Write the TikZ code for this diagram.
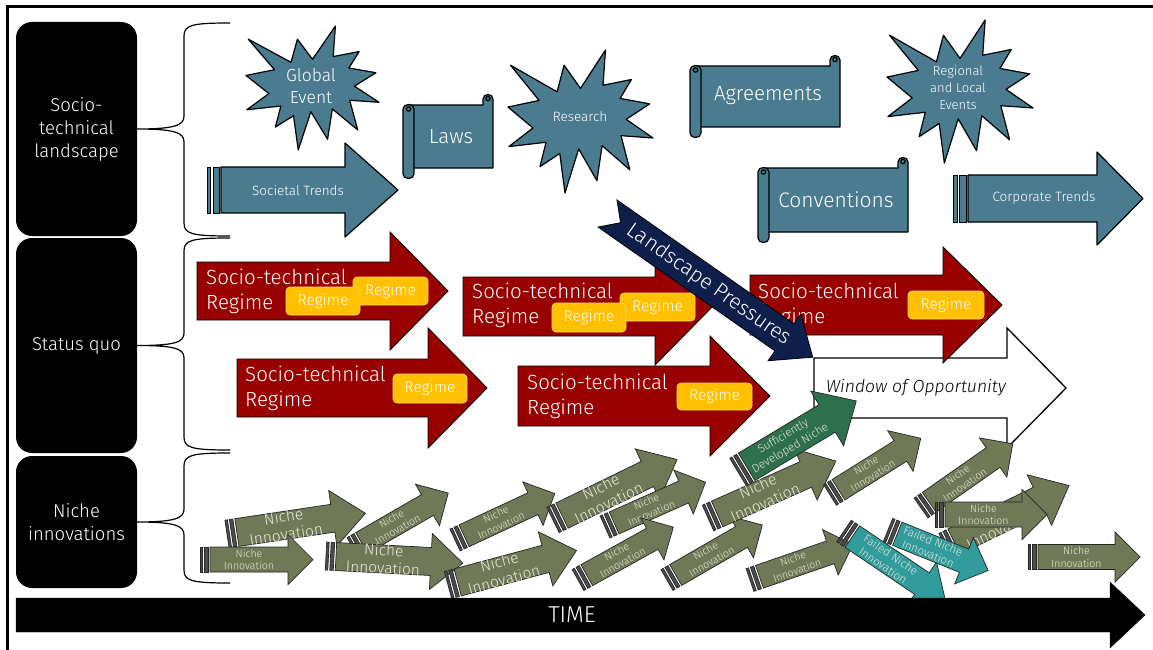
\documentclass[tikz,border=0pt]{standalone}
\usepackage{fontspec}
\setmainfont{Fira Sans Light}
\definecolor{landblue}{RGB}{74,123,143}
\definecolor{regred}{RGB}{153,0,0}
\definecolor{regyel}{RGB}{255,192,0}
\definecolor{navy}{RGB}{13,31,74}
\definecolor{nichegreen}{RGB}{112,121,86}
\definecolor{sdngreen}{RGB}{46,112,78}
\definecolor{failteal}{RGB}{50,155,155}
\definecolor{nichetext}{RGB}{232,232,218}

% explosion outline on a 216 x 216 grid, fitted into a w x h box at (x,y)
\newcommand{\seal}[4]{%
  \begin{scope}[shift={(#1,#2)},xscale=#3/216,yscale=#4/216]
    \draw[land] (108,58) -- (145.22,0) -- (141.55,53.25) -- (183.80,44.57) -- (167.02,73.15)
      -- (210.97,81.37) -- (176.07,104.75) -- (216,132.90) -- (168.37,129.42) -- (181.45,180.95)
      -- (140.20,144.57) -- (132.47,197.37) -- (105.32,149.35) -- (84.85,216) -- (77.15,156.27)
      -- (47.62,176.17) -- (56.67,139.37) -- (1.35,145.87) -- (37.22,117.75) -- (0,86.15)
      -- (46.27,76.17) -- (3.70,22.95) -- (73.12,63.20) -- (83.52,22.95) -- cycle;
  \end{scope}}

% scroll: body from (x1,y1) to (x2,y2), rolled tube on the left, curl top right
\newcommand{\scrollshape}[4]{%
  \draw[land] (#1+5,#2) -- (#3-10,#2) -- (#3-10,#2-6)
    .. controls (#3-10,#2-12) and (#3,#2-12) .. (#3,#2-6) -- (#3,#4) -- (#1+5,#4) -- cycle;
  \draw[land] (#3-5,#2-6.5) circle (2.2);
  \draw[land] (#1,#2+4) .. controls (#1,#2-2) and (#1+11,#2-2) .. (#1+11,#2+4)
    -- (#1+11,#4+6) .. controls (#1+11,#4+12) and (#1,#4+12) .. (#1,#4+6) -- cycle;
  \draw[land] (#1+5.5,#2+4) circle (2.2);}

% striped arrow: kind, name, tail x, tail y, angle, length, body half-height, head length, label
\newcommand{\nichearrow}[9]{%
  \begin{scope}[#1, shift={(#3,#4)}, rotate=#5]
    \draw[arrowbody, stripe] (0,-#7) rectangle (2.5,#7);
    \draw[arrowbody, stripe] (4.5,-#7) rectangle (8,#7);
    \draw[arrowbody] (10,-#7) -- ({#6-#8},-#7) -- ({#6-#8},{-2*#7}) -- (#6,0)
      -- ({#6-#8},{2*#7}) -- ({#6-#8},#7) -- (10,#7) -- cycle;
    \node[arrowlab, transform shape] (#2) at ({(10+#6-#8)/2},0) {#9};
  \end{scope}}

\tikzset{
  outerframe/.style={line width=3pt},
  leftbox/.style={fill=black, rounded corners=16pt, text=white, align=center,
    font=\fontsize{18.5}{23}\selectfont, inner sep=0},
  bracep/.style={line width=1.2pt, draw=black},
  land/.style={fill=landblue, draw=black, line width=1.2pt, line join=round},
  landstripe/.style={fill=landblue, draw=black, line width=0.6pt},
  landtxt/.style={text=white, align=center, inner sep=0},
  regime/.style={fill=regred, draw=black, line width=0.9pt, line join=miter},
  regtxt/.style={text=white, align=left, inner sep=0, font=\fontsize{20.5}{25}\selectfont},
  ybox/.style={fill=regyel, draw=regyel!55!white, line width=0.6pt, rounded corners=4pt,
    text=white, font=\fontsize{15.5}{18}\selectfont, inner sep=0},
  window/.style={fill=white, draw=black, line width=1.3pt},
  pressure/.style={fill=navy, draw=black, line width=0.8pt},
  nichefill/.style={fill=nichegreen, draw=black!85, line width=0.7pt},
  sdnfill/.style={fill=sdngreen, draw=black!85, line width=0.7pt},
  failfill/.style={fill=failteal, draw=black!85, line width=0.7pt},
  stripe/.style={fill=black!70},
  nichetxt/.style={text=nichetext, align=center, inner sep=0},
  nsmall/.style={arrowbody/.style={nichefill},
    arrowlab/.style={nichetxt, font=\fontsize{10.5}{12.5}\selectfont}},
  nbig/.style={arrowbody/.style={nichefill},
    arrowlab/.style={nichetxt, font=\fontsize{15.5}{18}\selectfont}},
  nsdn/.style={arrowbody/.style={sdnfill},
    arrowlab/.style={nichetxt, font=\fontsize{11.5}{14}\selectfont}},
  nfail/.style={arrowbody/.style={failfill},
    arrowlab/.style={nichetxt, font=\fontsize{11.5}{13.5}\selectfont}},
}

\begin{document}
\begin{tikzpicture}[x=1pt,y=-1pt]
\useasboundingbox (0,0) rectangle (1153,650);
\fill[white] (0,0) rectangle (1153,650);
\draw[outerframe] (7,7) rectangle (1160,660);

% layer boxes on the left
\node[leftbox, minimum width=121pt, minimum height=214pt] (boxland) at (76.5,129) {Socio-\\technical\\landscape};
\node[leftbox, minimum width=121pt, minimum height=215pt] (boxquo) at (76.5,345.5) {Status quo};
\node[leftbox, minimum width=121pt, minimum height=132pt] (boxniche) at (76.5,522) {Niche\\innovations};

% braces
\draw[bracep] (230,23) .. controls (192,23) and (184,25) .. (184,36) -- (184,116)
  .. controls (184,125) and (176,129) .. (boxland.east)
  .. controls (176,129) and (184,133) .. (184,142) -- (184,223)
  .. controls (184,234) and (192,236) .. (230,236);
\draw[bracep] (230,238) .. controls (192,238) and (184,240) .. (184,251) -- (184,333)
  .. controls (184,342) and (176,345.5) .. (boxquo.east)
  .. controls (176,345.5) and (184,349) .. (184,358) -- (184,437)
  .. controls (184,448) and (192,450) .. (230,450);
\draw[bracep] (230,453) .. controls (192,453) and (184,455) .. (184,466) -- (184,509)
  .. controls (184,518) and (176,522) .. (boxniche.east)
  .. controls (176,522) and (184,526) .. (184,535) -- (184,570)
  .. controls (184,581) and (192,583) .. (230,583);

% landscape
\seal{246}{26}{133}{124}
\node[landtxt, font=\fontsize{17.5}{22}\selectfont] (global) at (311,86) {Global\\Event};

\draw[landstripe] (207,167) rectangle (210.5,213);
\draw[landstripe] (213,167) rectangle (219.5,213);
\draw[land] (221,167) -- (345,167) -- (345,143) -- (398,190) -- (345,237) -- (345,213) -- (221,213) -- cycle;
\node[landtxt, font=\fontsize{13.5}{16}\selectfont] (societal) at (298,190) {Societal Trends};

\scrollshape{403}{105}{493}{168}
\node[landtxt, font=\fontsize{20.5}{24}\selectfont] (laws) at (451,137) {Laws};

\seal{508}{50}{145}{143}
\node[landtxt, font=\fontsize{13.5}{16}\selectfont] (research) at (580,117) {Research};

\scrollshape{690}{66}{840}{127}
\node[landtxt, font=\fontsize{20.5}{24}\selectfont] (agree) at (768,96) {Agreements};

\seal{887}{20}{146}{143}
\node[landtxt, font=\fontsize{13}{17}\selectfont] (regional) at (958,88) {Regional\\and Local\\Events};

\scrollshape{758}{168}{908}{232}
\node[landtxt, font=\fontsize{21}{24}\selectfont] (conv) at (836,200) {Conventions};

\draw[landstripe] (953,175) rectangle (957,222);
\draw[landstripe] (959.5,175) rectangle (966,222);
\draw[land] (968,175) -- (1097,175) -- (1097,152) -- (1143,198.5) -- (1097,245) -- (1097,222) -- (968,222) -- cycle;
\node[landtxt, font=\fontsize{13.5}{16}\selectfont] (corporate) at (1044,198) {Corporate Trends};

% regimes
\draw[regime] (197,262) -- (390,262) -- (390,232) -- (448,291) -- (390,350) -- (390,320) -- (197,320) -- cycle;
\node[regtxt, anchor=west] (r1t) at (206,291) {Socio-technical\\Regime};
\node[ybox, minimum width=75pt, minimum height=28pt] (r1b) at (390.5,291) {Regime};
\node[ybox, minimum width=74pt, minimum height=28pt] (r1a) at (323,301) {Regime};

\draw[regime] (237,359) -- (428,359) -- (428,328) -- (487,388) -- (428,448) -- (428,417) -- (237,417) -- cycle;
\node[regtxt, anchor=west] (r2t) at (245,388) {Socio-technical\\Regime};
\node[ybox, minimum width=74pt, minimum height=29pt] (r2a) at (430,388.5) {Regime};

\draw[regime] (463,277) -- (655,277) -- (655,247) -- (713,306) -- (655,365) -- (655,336) -- (463,336) -- cycle;
\node[regtxt, anchor=west] (r3t) at (472,305.5) {Socio-technical\\Regime};
\node[ybox, minimum width=75pt, minimum height=28pt] (r3b) at (657.5,307) {Regime};
\node[ybox, minimum width=74pt, minimum height=29pt] (r3a) at (589,317.5) {Regime};

\draw[regime] (518,366) -- (710,366) -- (710,336) -- (770,396) -- (710,456) -- (710,426) -- (518,426) -- cycle;
\node[regtxt, anchor=west] (r4t) at (527,396) {Socio-technical\\Regime};
\node[ybox, minimum width=75pt, minimum height=27pt] (r4a) at (714.5,396.5) {Regime};

% window of opportunity
\draw[window] (814,358) -- (1007,358) -- (1007,328) -- (1066,388) -- (1007,448) -- (1007,418) -- (814,418) -- cycle;
\node[inner sep=0, font=\fontsize{17.5}{20}\selectfont\itshape] (wtext) at (916,388) {Window of Opportunity};

\draw[regime] (750,275) -- (943,275) -- (943,247) -- (1002,305) -- (943,363) -- (943,335) -- (750,335) -- cycle;
\node[regtxt, anchor=west] (r5t) at (758,305) {Socio-technical\\Regime};
\node[ybox, minimum width=76pt, minimum height=28pt] (r5a) at (946,305) {Regime};

% landscape pressures
\begin{scope}[shift={(607.5,213.5)}, rotate=-35]
  \draw[pressure] (0,-16.5) -- (216,-16.5) -- (216,-28.5) -- (250.5,0) -- (216,28.5) -- (216,16.5) -- (0,16.5) -- (16,0) -- cycle;
  \node[transform shape, text=white, inner sep=0, font=\fontsize{21}{24}\selectfont] (lptext) at (124,0) {Landscape Pressures};
\end{scope}

% niche innovations
\nichearrow{nbig}{n2}{227}{534}{8.5}{140}{14}{33}{Niche\\Innovation}
\nichearrow{nsmall}{n1}{200}{559.5}{0}{113}{12.5}{25}{Niche\\Innovation}
\nichearrow{nsmall}{n3}{353}{548}{30}{110}{12}{24}{Niche\\Innovation}
\nichearrow{nbig}{n4}{326}{556}{-3}{137}{14}{32}{Niche\\Innovation}
\nichearrow{nsmall}{n5}{455}{540}{25}{110}{12}{24}{Niche\\Innovation}
\nichearrow{nbig}{n6}{448}{585}{15}{133}{14}{32}{Niche\\Innovation}
\nichearrow{nbig}{n7}{553}{520}{26}{138}{14}{33}{Niche\\Innovation}
\nichearrow{nsmall}{n8}{605}{527}{24}{110}{12}{24}{Niche\\Innovation}
\nichearrow{nsmall}{n9}{578}{580}{29}{109}{12}{24}{Niche\\Innovation}
\nichearrow{nsmall}{n10}{667}{580}{30}{110}{12}{24}{Niche\\Innovation}
\nichearrow{nbig}{n11}{708}{518}{24}{140}{14}{33}{Niche\\Innovation}
\nichearrow{nsdn}{sdn}{738}{472}{31}{138}{16}{34}{Sufficiently\\Developed Niche}
\nichearrow{nsmall}{n17}{750}{580}{19}{109}{12}{24}{Niche\\Innovation}
\nichearrow{nsmall}{n12}{830}{495}{32}{107}{12}{24}{Niche\\Innovation}
\nichearrow{nsmall}{n13}{921}{508}{35}{112}{12}{24}{Niche\\Innovation}
\nichearrow{nbig}{n15}{945}{546}{26}{138}{14}{33}{Niche\\Innovation}
\nichearrow{nsmall}{n14}{935}{514.5}{0}{112}{12.5}{25}{Niche\\Innovation}
\nichearrow{nsmall}{n16}{1028}{557}{0}{112}{12.5}{25}{Niche\\Innovation}
\nichearrow{nfail}{f1}{844}{531}{-34}{122}{13}{28}{Failed Niche\\Innovation}
\nichearrow{nfail}{f2}{888}{530}{-22}{108}{12.5}{26}{Failed Niche\\Innovation}

% time axis
\draw[fill=black] (16,598) -- (1110,598) -- (1110,582) -- (1145,615) -- (1110,648) -- (1110,632) -- (16,632) -- cycle;
\node[text=white, inner sep=0, font=\fontsize{23}{26}\selectfont] (time) at (572,615) {TIME};
\end{tikzpicture}
\end{document}
